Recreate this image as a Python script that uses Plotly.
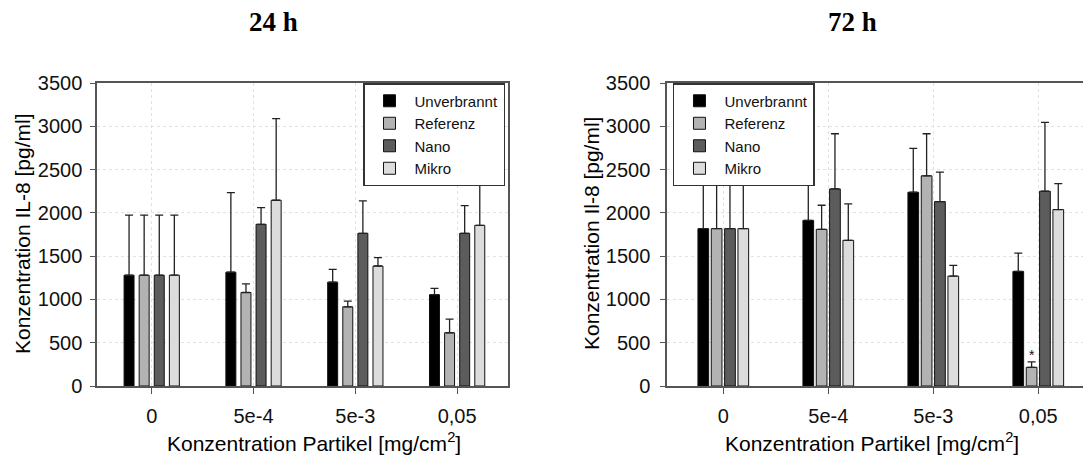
import plotly.graph_objects as go

categories = ["0", "5e-4", "5e-3", "0,05"]
series_names = ["Unverbrannt", "Referenz", "Nano", "Mikro"]

# 24 h values (pg/ml) and upper error (SD)
h24_unverbrannt = [1280, 1315, 1200, 1055]
h24_unverbrannt_err = [695, 920, 147, 72]
h24_referenz = [1280, 1080, 915, 615]
h24_referenz_err = [695, 100, 65, 157]
h24_nano = [1280, 1868, 1764, 1764]
h24_nano_err = [695, 193, 374, 320]
h24_mikro = [1280, 2146, 1386, 1856]
h24_mikro_err = [695, 942, 96, 644]

# 72 h values
h72_unverbrannt = [1818, 1914, 2238, 1324]
h72_unverbrannt_err = [532, 536, 506, 212]
h72_referenz = [1818, 1810, 2428, 216]
h72_referenz_err = [532, 278, 486, 62]
h72_nano = [1818, 2277, 2130, 2250]
h72_nano_err = [532, 637, 340, 795]
h72_mikro = [1818, 1683, 1270, 2038]
h72_mikro_err = [532, 420, 123, 301]

y_ticks = [0, 500, 1000, 1500, 2000, 2500, 3000, 3500]

colors = ["#000000", "#b3b3b3", "#5c5c5c", "#dcdcdc"]
FONT = "Liberation Sans, Arial, sans-serif"
SERIF = "Liberation Serif, Times New Roman, serif"

fig = go.Figure()

panels = [
    ("x", "y", "legend", [h24_unverbrannt, h24_referenz, h24_nano, h24_mikro],
     [h24_unverbrannt_err, h24_referenz_err, h24_nano_err, h24_mikro_err], 0.1483, 0.098),
    ("x2", "y2", "legend2", [h72_unverbrannt, h72_referenz, h72_nano, h72_mikro],
     [h72_unverbrannt_err, h72_referenz_err, h72_nano_err, h72_mikro_err], 0.127, 0.102),
]

for xa, ya, lg, vals, errs, slot, bw in panels:
    for i, (name, v, e, c) in enumerate(zip(series_names, vals, errs, colors)):
        fig.add_trace(go.Bar(
            x=categories, y=v, name=name, xaxis=xa, yaxis=ya, legend=lg,
            marker=dict(color=c, line=dict(color="#111111", width=1)),
            width=bw, offset=(i - 1.5) * slot - bw / 2,
            error_y=dict(type="data", array=e, arrayminus=[0] * len(e), symmetric=False,
                         color="#222222", thickness=1.3, width=4),
        ))

axis_common = dict(
    showline=True, linecolor="#555555", linewidth=1.5,
    ticks="outside", tickcolor="#555555",
    showgrid=True, gridcolor="#e2e2e2", griddash="dot", gridwidth=1,
    tickfont=dict(family=FONT, size=20, color="#111111"),
    zeroline=False, automargin=False,
)

legend_common = dict(
    yanchor="top", y=0.8207,
    bordercolor="#333333", borderwidth=1.5, bgcolor="white",
    font=dict(family=FONT, size=15, color="#111111"), tracegroupgap=0, itemwidth=40,
)

fig.update_layout(
    width=1083, height=463,
    margin=dict(l=0, r=0, t=0, b=0),
    paper_bgcolor="white", plot_bgcolor="white",
    barmode="overlay",
    font=dict(family=FONT, color="#111111"),
    xaxis=dict(domain=[0.0896, 0.4691], type="category", range=[-0.537, 3.50],
               mirror=True, ticklen=6, ticklabelstandoff=5, **axis_common),
    yaxis=dict(domain=[0.1663, 0.8207], range=[0, 3500], tickvals=y_ticks,
               mirror=True, ticklen=5, ticklabelstandoff=4, **axis_common),
    xaxis2=dict(domain=[0.6159, 1.0], type="category", range=[-0.536, 3.426], anchor="y2",
                mirror=True, ticklen=6, ticklabelstandoff=5, **axis_common),
    yaxis2=dict(domain=[0.1663, 0.8207], range=[0, 3500], tickvals=y_ticks, anchor="x2",
                mirror=False, ticklen=5, ticklabelstandoff=6, **axis_common),
    legend=dict(x=0.4663, xanchor="right", **legend_common),
    legend2=dict(x=0.6214, xanchor="left", **legend_common),
    showlegend=True,
)

def ann(text, x, y, size, family=FONT, angle=0):
    return dict(text=text, x=x / 1083, y=1 - y / 463, xref="paper", yref="paper",
                xanchor="center", yanchor="middle", textangle=angle, showarrow=False,
                font=dict(family=family, size=size, color="#000"))

annotations = [
    ann("<b>24 h</b>", 273, 22, 27, SERIF),
    ann("<b>72 h</b>", 852, 22, 27, SERIF),
    ann("Konzentration Partikel [mg/cm<sup>2</sup>]", 314, 442, 21),
    ann("Konzentration Partikel [mg/cm<sup>2</sup>]", 872, 442, 21),
    ann("Konzentration IL-8 [pg/ml]", 22, 234, 21, angle=-90),
    ann("Konzentration Il-8 [pg/ml]", 591, 234, 21, angle=-90),
    dict(text="*", x="0,05", y=h72_referenz[3] + h72_referenz_err[3], xref="x2", yref="y2",
         xshift=-6.7, yshift=-3, xanchor="center", yanchor="bottom", showarrow=False,
         font=dict(family=FONT, size=14, color="#111")),
]
fig.update_layout(annotations=annotations)

fig.write_html("out.html")
